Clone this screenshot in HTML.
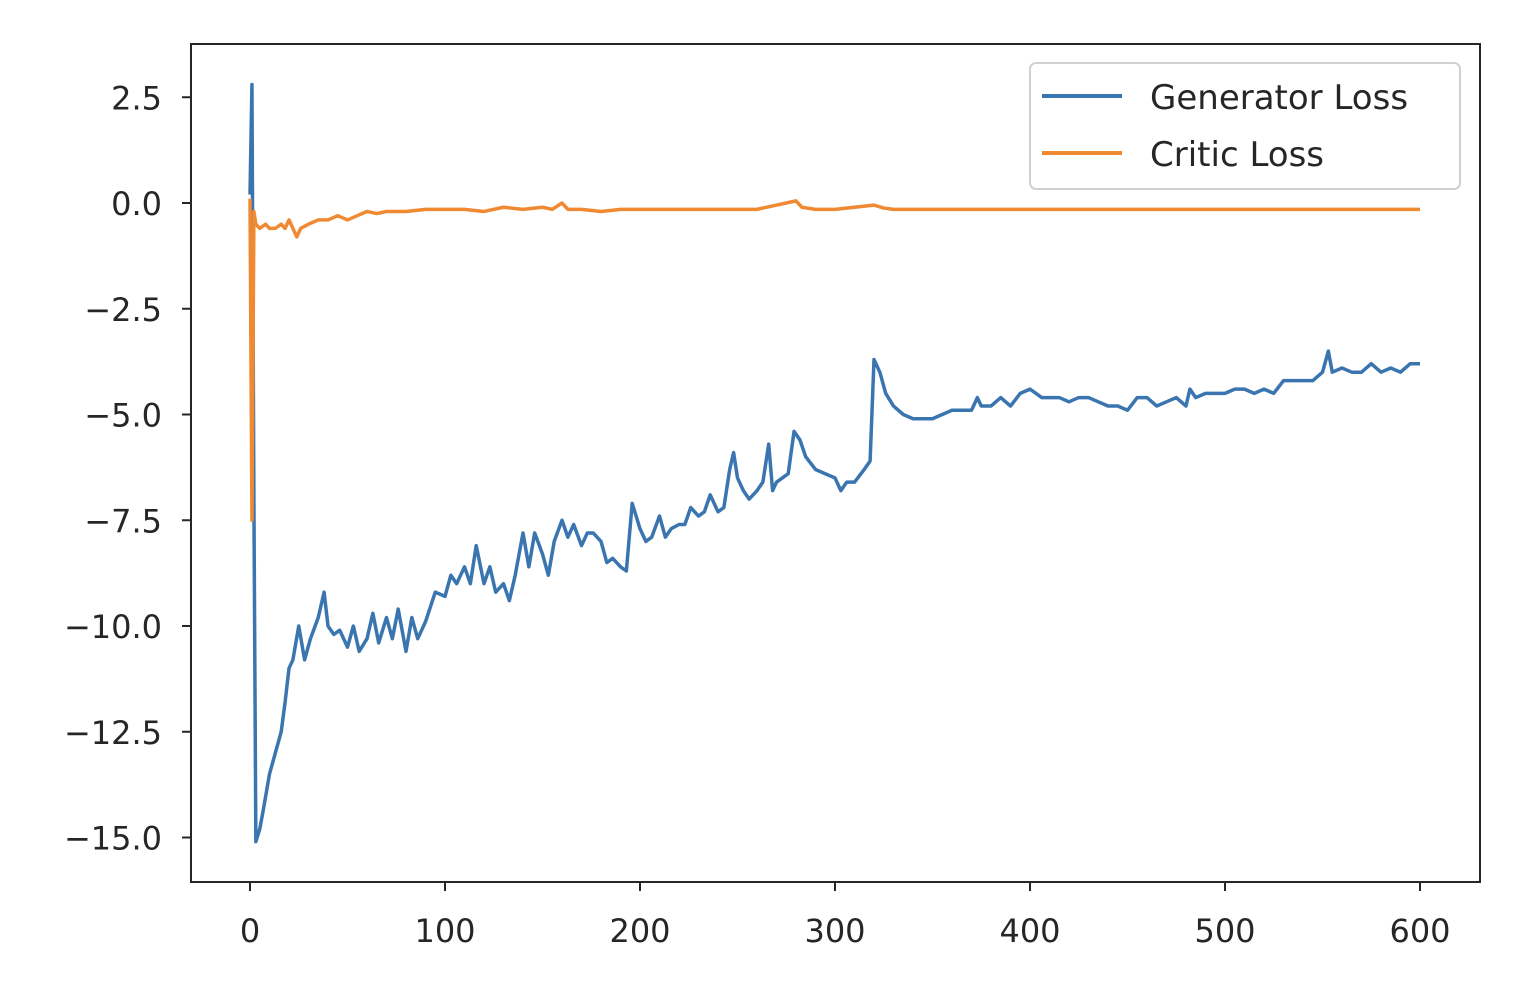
<!DOCTYPE html>
<html><head><meta charset="utf-8"><style>
body{margin:0;background:#fff;}
svg text{font-family:"DejaVu Sans","Liberation Sans",sans-serif;fill:#262626;}
</style></head><body>
<svg id="chart" width="1528" height="978" xmlns="http://www.w3.org/2000/svg">
<rect x="191" y="44" width="1289" height="838" fill="#fff" stroke="#262626" stroke-width="2"/>
<g id="xt"></g>
<g id="yt"></g>
<g id="series"></g>
<g>
<rect x="1030" y="63" width="430" height="126" rx="6" fill="#fff" stroke="#d0d0d0" stroke-width="2"/>
<line x1="1042" y1="96" x2="1122" y2="96" stroke="#3a75b0" stroke-width="4"/>
<text x="1150" y="109" font-size="34">Generator Loss</text>
<line x1="1042" y1="153" x2="1122" y2="153" stroke="#ef8a32" stroke-width="4"/>
<text x="1150" y="166" font-size="34">Critic Loss</text>
</g>
</svg>
<script>
const xTicks=[0,100,200,300,400,500,600];
const yTicks=[2.5,0,-2.5,-5,-7.5,-10,-12.5,-15];
const yTickLabels=["2.5","0.0","\u22122.5","\u22125.0","\u22127.5","\u221210.0","\u221212.5","\u221215.0"];
const genX=[0,1,2,3,5,7,10,13,16,18,20,22,25,28,31,35,38,40,43,46,50,53,56,60,63,66,70,73,76,80,83,86,90,95,100,103,106,110,113,116,120,123,126,130,133,136,140,143,146,150,153,156,160,163,166,170,173,176,180,183,186,190,193,196,200,203,206,210,213,216,220,223,226,230,233,236,240,243,246,248,250,253,256,260,263,266,268,270,273,276,279,282,285,290,295,300,303,306,310,315,318,320,323,326,330,335,340,345,350,355,360,365,370,373,375,380,385,390,395,400,403,406,410,415,420,425,430,435,440,445,450,455,460,465,470,475,480,482,485,490,495,500,505,510,515,520,525,530,535,540,545,550,553,555,560,565,570,575,580,585,590,595,600];
const genY=[0.2,2.8,-7,-15.1,-14.8,-14.3,-13.5,-13,-12.5,-11.8,-11,-10.8,-10,-10.8,-10.3,-9.8,-9.2,-10,-10.2,-10.1,-10.5,-10,-10.6,-10.3,-9.7,-10.4,-9.8,-10.3,-9.6,-10.6,-9.8,-10.3,-9.9,-9.2,-9.3,-8.8,-9.0,-8.6,-9,-8.1,-9.0,-8.6,-9.2,-9,-9.4,-8.8,-7.8,-8.6,-7.8,-8.3,-8.8,-8,-7.5,-7.9,-7.6,-8.1,-7.8,-7.8,-8,-8.5,-8.4,-8.6,-8.7,-7.1,-7.7,-8.0,-7.9,-7.4,-7.9,-7.7,-7.6,-7.6,-7.2,-7.4,-7.3,-6.9,-7.3,-7.2,-6.3,-5.9,-6.5,-6.8,-7.0,-6.8,-6.6,-5.7,-6.8,-6.6,-6.5,-6.4,-5.4,-5.6,-6.0,-6.3,-6.4,-6.5,-6.8,-6.6,-6.6,-6.3,-6.1,-3.7,-4.0,-4.5,-4.8,-5.0,-5.1,-5.1,-5.1,-5.0,-4.9,-4.9,-4.9,-4.6,-4.8,-4.8,-4.6,-4.8,-4.5,-4.4,-4.5,-4.6,-4.6,-4.6,-4.7,-4.6,-4.6,-4.7,-4.8,-4.8,-4.9,-4.6,-4.6,-4.8,-4.7,-4.6,-4.8,-4.4,-4.6,-4.5,-4.5,-4.5,-4.4,-4.4,-4.5,-4.4,-4.5,-4.2,-4.2,-4.2,-4.2,-4.0,-3.5,-4.0,-3.9,-4.0,-4.0,-3.8,-4.0,-3.9,-4.0,-3.8,-3.8];
const criticX=[0,1,2,3,5,8,10,13,16,18,20,22,24,26,30,35,40,45,50,55,60,65,70,80,90,100,110,120,130,140,150,155,160,163,170,180,190,200,220,240,260,280,283,290,300,320,325,330,400,500,600];
const criticY=[0.1,-7.5,-0.2,-0.5,-0.6,-0.5,-0.6,-0.6,-0.5,-0.6,-0.4,-0.6,-0.8,-0.6,-0.5,-0.4,-0.4,-0.3,-0.4,-0.3,-0.2,-0.25,-0.2,-0.2,-0.15,-0.15,-0.15,-0.2,-0.1,-0.15,-0.1,-0.15,0.0,-0.15,-0.15,-0.2,-0.15,-0.15,-0.15,-0.15,-0.15,0.05,-0.1,-0.15,-0.15,-0.05,-0.12,-0.15,-0.15,-0.15,-0.15];
const NS="http://www.w3.org/2000/svg";
const sx=v=>250+v*1.95;
const sy=v=>203-v*42.3;
const xt=document.getElementById('xt'),yt=document.getElementById('yt'),sg=document.getElementById('series');
xTicks.forEach(t=>{
  const l=document.createElementNS(NS,'line');
  l.setAttribute('x1',sx(t));l.setAttribute('x2',sx(t));l.setAttribute('y1',882);l.setAttribute('y2',891);
  l.setAttribute('stroke','#262626');l.setAttribute('stroke-width','2');
  
  
  xt.appendChild(l);
  const tx=document.createElementNS(NS,'text');
  tx.setAttribute('x',sx(t));tx.setAttribute('y',942);tx.setAttribute('font-size','32');tx.setAttribute('text-anchor','middle');
  tx.textContent=t;
  
  
  xt.appendChild(tx);
});
yTicks.forEach((t,i)=>{
  const l=document.createElementNS(NS,'line');
  l.setAttribute('x1',182);l.setAttribute('x2',191);l.setAttribute('y1',sy(t));l.setAttribute('y2',sy(t));
  l.setAttribute('stroke','#262626');l.setAttribute('stroke-width','2');
  
  
  yt.appendChild(l);
  const tx=document.createElementNS(NS,'text');
  tx.setAttribute('x',162);tx.setAttribute('y',sy(t)+12);tx.setAttribute('font-size','32');tx.setAttribute('text-anchor','end');
  tx.textContent=yTickLabels[i];
  
  
  yt.appendChild(tx);
});
function line(xs,ys,color,name){
  const p=document.createElementNS(NS,'polyline');
  p.setAttribute('points',xs.map((x,i)=>sx(x)+','+sy(ys[i])).join(' '));
  p.setAttribute('fill','none');p.setAttribute('stroke',color);p.setAttribute('stroke-width','3.5');p.setAttribute('stroke-linejoin','round');
  
  
  sg.appendChild(p);
}
line(genX,genY,'#3a75b0','generator-loss-line');
line(criticX,criticY,'#ef8a32','critic-loss-line');
</script>
</body></html>
